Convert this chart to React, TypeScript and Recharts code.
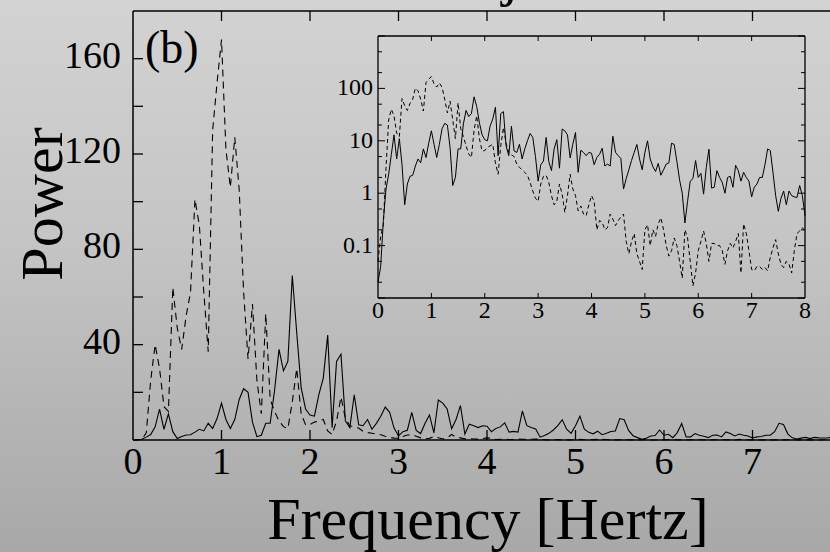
import { LineChart, Line, XAxis, YAxis, ReferenceLine } from 'recharts';

// frequency bins [Hz]
const FREQ = [
  0, 0.05, 0.1, 0.15, 0.2, 0.25, 0.3, 0.35, 0.4, 0.45, 0.5, 0.55, 0.6, 0.65, 0.7, 0.75, 0.8, 0.85, 0.9, 0.95,
  1, 1.05, 1.1, 1.15, 1.2, 1.25, 1.3, 1.35, 1.4, 1.45, 1.5, 1.55, 1.6, 1.65, 1.7, 1.75, 1.8, 1.85, 1.9, 1.95,
  2, 2.05, 2.1, 2.15, 2.2, 2.25, 2.3, 2.35, 2.4, 2.45, 2.5, 2.55, 2.6, 2.65, 2.7, 2.75, 2.8, 2.85, 2.9, 2.95,
  3, 3.05, 3.1, 3.15, 3.2, 3.25, 3.3, 3.35, 3.4, 3.45, 3.5, 3.55, 3.6, 3.65, 3.7, 3.75, 3.8, 3.85, 3.9, 3.95,
  4, 4.05, 4.1, 4.15, 4.2, 4.25, 4.3, 4.35, 4.4, 4.45, 4.5, 4.55, 4.6, 4.65, 4.7, 4.75, 4.8, 4.85, 4.9, 4.95,
  5, 5.05, 5.1, 5.15, 5.2, 5.25, 5.3, 5.35, 5.4, 5.45, 5.5, 5.55, 5.6, 5.65, 5.7, 5.75, 5.8, 5.85, 5.9, 5.95,
  6, 6.05, 6.1, 6.15, 6.2, 6.25, 6.3, 6.35, 6.4, 6.45, 6.5, 6.55, 6.6, 6.65, 6.7, 6.75, 6.8, 6.85, 6.9, 6.95,
  7, 7.05, 7.1, 7.15, 7.2, 7.25, 7.3, 7.35, 7.4, 7.45, 7.5, 7.55, 7.6, 7.65, 7.7, 7.75, 7.8, 7.85, 7.9, 7.95,
  8,
];

// solid curve
const SOLID = [
  0.02, 0.04, 0.3, 1.2, 2.3, 5.5, 13, 4.5, 11, 3.5, 0.6, 1.5, 2.1, 2.2, 3.3, 4.5, 3.8, 7, 4.8, 9,
  15.5, 8.6, 4.8, 8.6, 17, 21.5, 20, 7.5, 1.4, 2, 7, 7, 21, 38, 29, 33, 69, 45, 22, 13,
  10.5, 10, 19, 26, 44, 5.2, 33, 36, 8, 5.2, 19, 6.4, 6, 8.6, 4.5, 7, 10, 13.8, 11.6, 5,
  1.7, 3.5, 4.1, 11.6, 4, 2.7, 7, 10.5, 3, 16.8, 15.5, 13, 4.7, 8.6, 14.4, 2.5, 6.6, 6, 5.2, 6,
  5.8, 3.5, 4.8, 5.5, 7.2, 3.3, 3.6, 3.3, 12.2, 6, 5.2, 4.6, 1.2, 1.9, 2.8, 4.2, 6, 8.5, 4.5, 2.8,
  6, 10, 4.5, 3.2, 2.6, 3.7, 2.2, 2.8, 3.6, 3.8, 9, 8.5, 4, 1.8, 1, 0.27, 0.7, 1.7, 1.9, 4.2,
  2, 2.4, 0.96, 3.1, 6.9, 1.25, 1.3, 2.7, 2, 1.6, 1, 2, 2.1, 1.3, 3.4, 2.7, 1.7, 2.5, 2, 1.7,
  0.85, 1.3, 1.5, 2, 2, 3.5, 7, 6.5, 2.5, 0.9, 0.45, 0.8, 1.1, 0.6, 1.1, 0.9, 0.85, 0.83, 1.4, 0.9,
  0.37,
];

// dashed curve
const DASHED = [
  0.05, 0.15, 0.25, 3, 25, 40, 30, 14, 12, 64, 47, 38, 52, 62, 101, 90, 62, 37, 130, 150,
  168, 122, 106, 127, 105, 62, 34, 57, 25, 11, 53, 17, 12, 8, 5.6, 4.8, 16, 30, 11, 6.4,
  6.5, 7.5, 8, 8.6, 3.8, 2.3, 8, 18, 9, 6, 5.4, 5, 3.6, 3.1, 2.8, 2.5, 2.2, 1.6, 1.1, 0.8,
  0.7, 1.5, 2.1, 2.2, 1.6, 0.9, 0.6, 0.7, 1.5, 0.96, 0.43, 0.9, 2.3, 1.2, 0.9, 0.46, 0.57, 0.4, 0.37, 0.6,
  0.9, 0.7, 0.2, 0.3, 0.28, 0.2, 0.22, 0.4, 0.32, 0.24, 0.3, 0.35, 0.4, 0.12, 0.07, 0.12, 0.17, 0.07, 0.05, 0.035,
  0.2, 0.25, 0.1, 0.2, 0.15, 0.26, 0.34, 0.2, 0.1, 0.063, 0.08, 0.14, 0.1, 0.05, 0.024, 0.2, 0.14, 0.05, 0.017, 0.03,
  0.08, 0.12, 0.19, 0.11, 0.05, 0.11, 0.11, 0.1, 0.1, 0.08, 0.044, 0.08, 0.11, 0.09, 0.12, 0.17, 0.03, 0.26, 0.17, 0.08,
  0.035, 0.033, 0.04, 0.04, 0.035, 0.038, 0.033, 0.06, 0.09, 0.13, 0.07, 0.044, 0.038, 0.05, 0.045, 0.03, 0.08, 0.17, 0.19, 0.22,
  0.19,
];

const X_TICKS = [0, 1, 2, 3, 4, 5, 6, 7, 8];
const MAIN_X_LABELS = [0, 1, 2, 3, 4, 5, 6, 7];
const MAIN_Y_TICKS = [0, 20, 40, 60, 80, 100, 120, 140, 160, 180];
const MAIN_Y_LABELS = [40, 80, 120, 160];
const INSET_Y_TICKS = [0.01, 0.02, 0.05, 0.1, 0.2, 0.5, 1, 2, 5, 10, 20, 50, 100, 200, 500, 1000];
const INSET_Y_MAJOR = [0.01, 0.1, 1, 10, 100, 1000];
const INSET_Y_LABELS = [0.1, 1, 10, 100];

const data = FREQ.map((f, i) => ({ f, s: SOLID[i], d: DASHED[i] }));

const serif = '"Liberation Serif", "DejaVu Serif", "Times New Roman", serif';
const INK = '#000';

// plot frames (page pixels)
const MAIN = { left: 133, top: 11, bottom: 440, width: 850, height: 552 };
const INSET = { x0: 300, left: 378, right: 805, top: 36, bottom: 298, width: 530, height: 340 };
const IL = INSET.left - INSET.x0;
const IR = INSET.right - INSET.x0;

// main chart ticks, drawn inward
const mainLeftTick = (p: any) => {
  const v = p.payload.value;
  return (
    <g>
      {v > 0 && v < 180 && <line x1={MAIN.left} x2={MAIN.left + 10} y1={p.y} y2={p.y} stroke={INK} strokeWidth={1.3} />}
      {MAIN_Y_LABELS.includes(v) && (
        <text x={MAIN.left - 12} y={p.y + 9} textAnchor='end' fontSize={38} fontFamily={serif} fill={INK}>
          {v}
        </text>
      )}
    </g>
  );
};

const mainBottomTick = (p: any) => {
  const v = p.payload.value;
  return (
    <g>
      {v > 0 && (
        <>
          <line x1={p.x} x2={p.x} y1={MAIN.bottom} y2={MAIN.bottom - 10} stroke={INK} strokeWidth={1.3} />
          <line x1={p.x} x2={p.x} y1={MAIN.top} y2={MAIN.top + 10} stroke={INK} strokeWidth={1.3} />
        </>
      )}
      {MAIN_X_LABELS.includes(v) && (
        <text x={p.x} y={MAIN.bottom + 34} textAnchor='middle' fontSize={38} fontFamily={serif} fill={INK}>
          {v}
        </text>
      )}
    </g>
  );
};

// inset ticks
const insetLeftTick = (p: any) => {
  const v = p.payload.value;
  const len = INSET_Y_MAJOR.includes(v) ? 7 : 4;
  return (
    <g>
      <line x1={IL} x2={IL + len} y1={p.y} y2={p.y} stroke={INK} strokeWidth={1} />
      <line x1={IR} x2={IR - len} y1={p.y} y2={p.y} stroke={INK} strokeWidth={1} />
      {INSET_Y_LABELS.includes(v) && (
        <text x={IL - 5} y={p.y + 7} textAnchor='end' fontSize={24} fontFamily={serif} fill={INK}>
          {v}
        </text>
      )}
    </g>
  );
};

const insetBottomTick = (p: any) => {
  const v = p.payload.value;
  return (
    <g>
      {v > 0 && v < 8 && (
        <>
          <line x1={p.x} x2={p.x} y1={INSET.bottom} y2={INSET.bottom - 5} stroke={INK} strokeWidth={1} />
          <line x1={p.x} x2={p.x} y1={INSET.top} y2={INSET.top + 5} stroke={INK} strokeWidth={1} />
        </>
      )}
      <text x={p.x} y={INSET.bottom + 20} textAnchor='middle' fontSize={24} fontFamily={serif} fill={INK}>
        {v}
      </text>
    </g>
  );
};

export default function App() {
  return (
    <div
      style={{
        position: 'absolute',
        left: 0,
        top: 0,
        width: 830,
        height: 552,
        overflow: 'hidden',
        background: 'linear-gradient(180deg, #d3d3d3 0%, #c4c4c4 45%, #a8a8a8 100%)',
      }}
    >
      <div style={{ position: 'absolute', left: 0, top: 0 }}>
        <LineChart
          width={MAIN.width}
          height={MAIN.height}
          data={data}
          margin={{ top: MAIN.top, right: 9, bottom: 0, left: 0 }}
        >
          <XAxis
            xAxisId='b'
            dataKey='f'
            type='number'
            domain={[0, 8]}
            ticks={X_TICKS}
            interval={0}
            height={MAIN.height - MAIN.bottom}
            tickSize={0}
            tickMargin={0}
            tickLine={false}
            axisLine={{ stroke: INK, strokeWidth: 1.5 }}
            tick={mainBottomTick}
          />
          <YAxis
            yAxisId='l'
            type='number'
            domain={[0, 180]}
            ticks={MAIN_Y_TICKS}
            interval={0}
            width={MAIN.left}
            tickSize={0}
            tickMargin={0}
            tickLine={false}
            axisLine={{ stroke: INK, strokeWidth: 1.5 }}
            tick={mainLeftTick}
          />
          <ReferenceLine xAxisId='b' yAxisId='l' y={180} stroke={INK} strokeWidth={1.5} />
          <Line
            xAxisId='b'
            yAxisId='l'
            type='linear'
            dataKey='d'
            stroke={INK}
            strokeWidth={1.1}
            strokeDasharray='7 5'
            dot={false}
            isAnimationActive={false}
          />
          <Line
            xAxisId='b'
            yAxisId='l'
            type='linear'
            dataKey='s'
            stroke={INK}
            strokeWidth={1.1}
            dot={false}
            isAnimationActive={false}
          />
        </LineChart>
      </div>

      <div style={{ position: 'absolute', left: INSET.x0, top: 0 }}>
        <LineChart
          width={INSET.width}
          height={INSET.height}
          data={data}
          margin={{ top: INSET.top, right: INSET.width - IR, bottom: INSET.height - INSET.bottom - 30, left: 0 }}
        >
          <XAxis
            xAxisId='b'
            dataKey='f'
            type='number'
            domain={[0, 8]}
            ticks={X_TICKS}
            interval={0}
            height={30}
            tickSize={0}
            tickMargin={0}
            tickLine={false}
            axisLine={{ stroke: INK, strokeWidth: 1.3 }}
            tick={insetBottomTick}
          />
          <YAxis
            yAxisId='l'
            type='number'
            scale='log'
            domain={[0.01, 1000]}
            allowDataOverflow
            ticks={INSET_Y_TICKS}
            interval={0}
            width={IL}
            tickSize={0}
            tickMargin={0}
            tickLine={false}
            axisLine={{ stroke: INK, strokeWidth: 1.3 }}
            tick={insetLeftTick}
          />
          <ReferenceLine xAxisId='b' yAxisId='l' y={1000} stroke={INK} strokeWidth={1.3} />
          <ReferenceLine xAxisId='b' yAxisId='l' x={8} stroke={INK} strokeWidth={1.3} />
          <Line
            xAxisId='b'
            yAxisId='l'
            type='linear'
            dataKey='d'
            stroke={INK}
            strokeWidth={1}
            strokeDasharray='4 3'
            dot={false}
            isAnimationActive={false}
          />
          <Line
            xAxisId='b'
            yAxisId='l'
            type='linear'
            dataKey='s'
            stroke={INK}
            strokeWidth={1}
            dot={false}
            isAnimationActive={false}
          />
        </LineChart>
      </div>

      <svg
        width={830}
        height={552}
        style={{ position: 'absolute', left: 0, top: 0, pointerEvents: 'none', overflow: 'visible' }}
      >
        <text x={502} y={-6} fontSize={60} fontFamily={serif} fill={INK}>
          j
        </text>
        <text x={145} y={63} fontSize={46} fontFamily={serif} fill={INK}>
          (b)
        </text>
        <text transform='translate(62,204) rotate(-90)' textAnchor='middle' fontSize={60} fontFamily={serif} fill={INK}>
          Power
        </text>
        <text x={488} y={539} textAnchor='middle' fontSize={60} fontFamily={serif} fill={INK}>
          Frequency [Hertz]
        </text>
      </svg>
    </div>
  );
}
